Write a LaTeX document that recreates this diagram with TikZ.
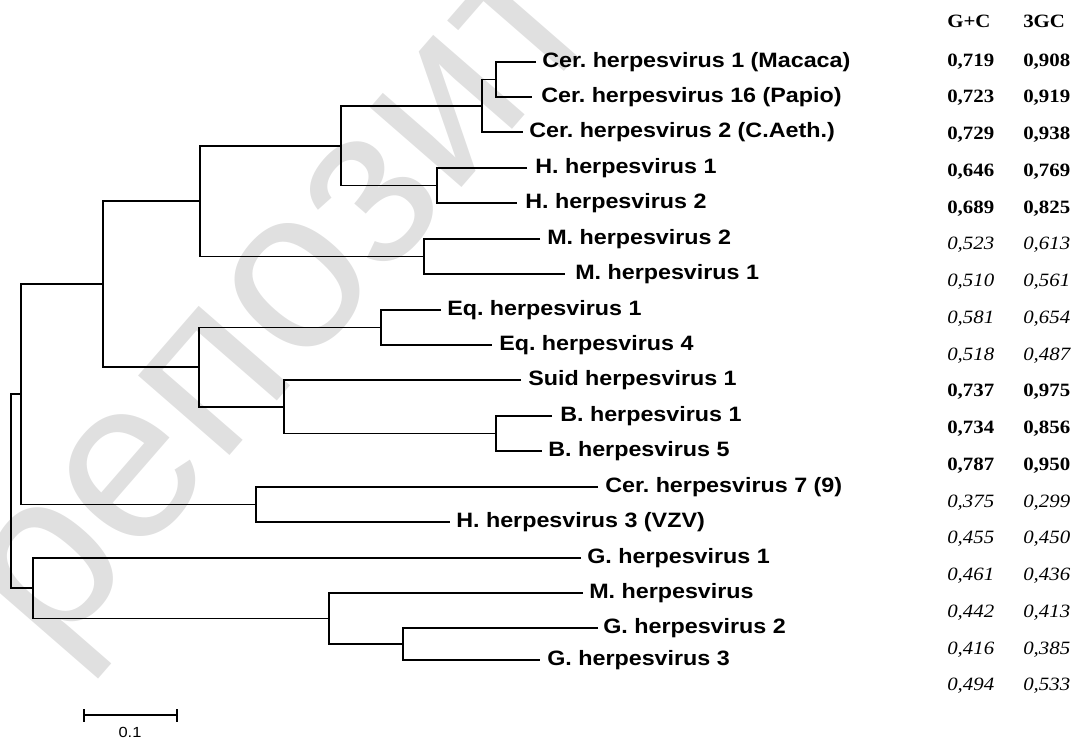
\documentclass[tikz,border=0pt]{standalone}
\usepackage{fontspec}
\newfontfamily\labfont[FakeStretch=1.12]{Liberation Sans}
\newfontfamily\numfont[FakeStretch=1.11]{Liberation Serif}
\newfontfamily\wmfont{Liberation Sans}
\frenchspacing
\tikzset{
  branch/.style={line width=1.1pt, line join=miter},
  lab/.style={anchor=base west, inner sep=0pt, font=\labfont\bfseries\fontsize{15.6}{18}\selectfont},
  numb/.style={anchor=base west, inner sep=0pt, font=\numfont\bfseries\fontsize{14.1}{16}\selectfont},
  numi/.style={anchor=base west, inner sep=0pt, font=\numfont\itshape\fontsize{14.1}{16}\selectfont},
  wmark/.style={anchor=base west, inner sep=0pt, rotate=49, text=black!12, font=\wmfont\fontsize{172}{172}\selectfont},
  scalelab/.style={inner sep=0pt, font=\labfont\fontsize{11}{12}\selectfont}
}
\begin{document}
\begin{tikzpicture}[x=0.75pt,y=-0.75pt]
\useasboundingbox (0,0) rectangle (1078,740);
% watermark
\node[wmark] (wm) at (52,660) {репозиторий};
% leaves (branch ends)
\coordinate (L1) at (536,62);
\coordinate (L2) at (532,97);
\coordinate (L3) at (523,132);
\coordinate (L4) at (527,168);
\coordinate (L5) at (517,203);
\coordinate (L6) at (540,239);
\coordinate (L7) at (565,274);
\coordinate (L8) at (441,310);
\coordinate (L9) at (492,345);
\coordinate (L10) at (521,380);
\coordinate (L11) at (552,416);
\coordinate (L12) at (542,451);
\coordinate (L13) at (598,487);
\coordinate (L14) at (450,522);
\coordinate (L15) at (581,558);
\coordinate (L16) at (583,593);
\coordinate (L17) at (598,628);
\coordinate (L18) at (540,660);
% internal nodes
\coordinate (c16) at (496,79.5);
\coordinate (cCer) at (482,106);
\coordinate (cH) at (437,185.5);
\coordinate (cCH) at (341,146);
\coordinate (cM) at (424,256.5);
\coordinate (cA) at (200,201);
\coordinate (cEq) at (381,327.5);
\coordinate (cB) at (496,433.5);
\coordinate (cSB) at (284,407);
\coordinate (cES) at (199,367);
\coordinate (cAl) at (103,284);
\coordinate (cV) at (256,504.5);
\coordinate (cAV) at (21,394);
\coordinate (cG) at (403,644);
\coordinate (cMG) at (329,618.5);
\coordinate (cGM) at (33,588);
\coordinate (root) at (11,491);
% branches
\draw[branch] (L1) -| (c16) |- (L2);
\draw[branch] (c16) -| (cCer) |- (L3);
\draw[branch] (L4) -| (cH) |- (L5);
\draw[branch] (cCer) -| (cCH) |- (cH);
\draw[branch] (L6) -| (cM) |- (L7);
\draw[branch] (cCH) -| (cA) |- (cM);
\draw[branch] (L8) -| (cEq) |- (L9);
\draw[branch] (L11) -| (cB) |- (L12);
\draw[branch] (L10) -| (cSB) |- (cB);
\draw[branch] (cEq) -| (cES) |- (cSB);
\draw[branch] (cA) -| (cAl) |- (cES);
\draw[branch] (L13) -| (cV) |- (L14);
\draw[branch] (cAl) -| (cAV) |- (cV);
\draw[branch] (L17) -| (cG) |- (L18);
\draw[branch] (L16) -| (cMG) |- (cG);
\draw[branch] (L15) -| (cGM) |- (cMG);
\draw[branch] (cAV) -| (root) |- (cGM);
% leaf labels
\node[lab] (T1) at (542,67.3) {Cer. herpesvirus 1 (Macaca)};
\node[lab] (T2) at (541,102.3) {Cer. herpesvirus 16 (Papio)};
\node[lab] (T3) at (529,137.3) {Cer. herpesvirus 2 (C.Aeth.)};
\node[lab] (T4) at (535,173.3) {H. herpesvirus 1};
\node[lab] (T5) at (525,208.3) {H. herpesvirus 2};
\node[lab] (T6) at (547,244.3) {M. herpesvirus 2};
\node[lab] (T7) at (575,279.3) {M. herpesvirus 1};
\node[lab] (T8) at (447,315.3) {Eq. herpesvirus 1};
\node[lab] (T9) at (499,350.3) {Eq. herpesvirus 4};
\node[lab] (T10) at (528,385.3) {Suid herpesvirus 1};
\node[lab] (T11) at (560,421.3) {B. herpesvirus 1};
\node[lab] (T12) at (548,456.3) {B. herpesvirus 5};
\node[lab] (T13) at (605,492.3) {Cer. herpesvirus 7 (9)};
\node[lab] (T14) at (456,527.3) {H. herpesvirus 3 (VZV)};
\node[lab] (T15) at (587,563.3) {G. herpesvirus 1};
\node[lab] (T16) at (589,598.3) {M. herpesvirus};
\node[lab] (T17) at (603,633.3) {G. herpesvirus 2};
\node[lab] (T18) at (547,665.3) {G. herpesvirus 3};
% table
\node[numb] (h1) at (947,27) {G+C};
\node[numb] (h2) at (1023,27) {3GC};
\foreach \i/\a/\b/\s in {0/{0,719}/{0,908}/numb, 1/{0,723}/{0,919}/numb, 2/{0,729}/{0,938}/numb, 3/{0,646}/{0,769}/numb, 4/{0,689}/{0,825}/numb,
  5/{0,523}/{0,613}/numi, 6/{0,510}/{0,561}/numi, 7/{0,581}/{0,654}/numi, 8/{0,518}/{0,487}/numi,
  9/{0,737}/{0,975}/numb, 10/{0,734}/{0,856}/numb, 11/{0,787}/{0,950}/numb,
  12/{0,375}/{0,299}/numi, 13/{0,455}/{0,450}/numi, 14/{0,461}/{0,436}/numi, 15/{0,442}/{0,413}/numi, 16/{0,416}/{0,385}/numi, 17/{0,494}/{0,533}/numi}{
  \node[\s] (a\i) at (947,{66.2+36.75*\i}) {\a};
  \node[\s] (b\i) at (1023,{66.2+36.75*\i}) {\b};
}
% scale bar
\coordinate (s1) at (84,715);
\coordinate (s2) at (177,715);
\draw[branch] (s1) -- (s2);
\draw[branch] ([yshift=4.5pt]s1) -- ([yshift=-5pt]s1);
\draw[branch] ([yshift=4.5pt]s2) -- ([yshift=-5pt]s2);
\node[scalelab] (sl) at (130,732) {0.1};
\end{tikzpicture}
\end{document}
